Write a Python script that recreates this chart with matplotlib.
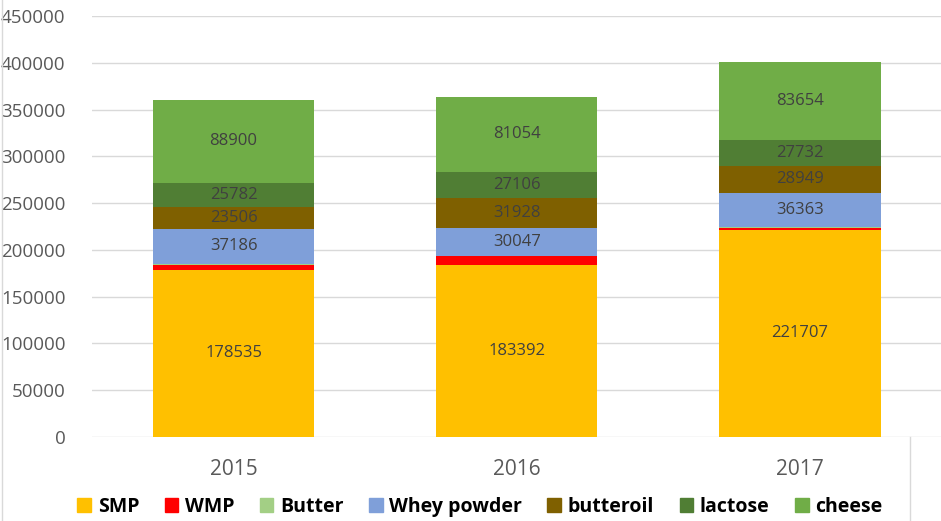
import matplotlib
matplotlib.use("Agg")
import matplotlib.pyplot as plt
from matplotlib.lines import Line2D
import numpy as np

years = ["2015", "2016", "2017"]
series = ["SMP", "WMP", "Butter", "Whey powder", "butteroil", "lactose", "cheese"]
smp = [178535, 183392, 221707]
wmp = [4800, 9800, 1600]
butter = [2000, 600, 1300]
whey = [37186, 30047, 36363]
butteroil = [23506, 31928, 28949]
lactose = [25782, 27106, 27732]
cheese = [88900, 81054, 83654]
labelled = [True, False, False, True, True, True, True]

colors = ["#FFC000", "#FF0000", "#A3CF85", "#7F9FD9", "#7F6000", "#507E34", "#70AD47"]

plt.rcParams["font.family"] = ["Open Sans", "DejaVu Sans"]

fig = plt.figure(figsize=(9.41, 5.21), dpi=100)
ax = fig.add_axes([92 / 941, 1 - 437 / 521, 849.5 / 941, (437 - 16) / 521])

x = np.arange(len(years))
bottom = np.zeros(len(years))
data = [smp, wmp, butter, whey, butteroil, lactose, cheese]
for name, vals, col, lab in zip(series, data, colors, labelled):
    vals = np.array(vals, dtype=float)
    ax.bar(x, vals, 0.57, bottom=bottom, color=col, label=name, zorder=3)
    if lab:
        for xi, b, v in zip(x, bottom, vals):
            ax.text(xi, b + v / 2, f"{int(v)}", ha="center", va="center",
                    fontsize=12, color="#404040", zorder=4)
    bottom += vals

ax.set_xlim(-0.5, 2.5)
ax.set_ylim(0, 450000)
ax.set_yticks(np.arange(0, 450001, 50000))
ax.set_yticklabels([str(v) for v in range(0, 450001, 50000)])
ax.set_xticks(x)
ax.set_xticklabels(years)
ax.tick_params(axis="y", length=0, pad=19, labelsize=13.5, labelcolor="#595959")
ax.tick_params(axis="x", length=0, pad=16, labelsize=15, labelcolor="#595959")
ax.grid(axis="y", color="#D9D9D9", linewidth=1, zorder=0)
for s in ax.spines.values():
    s.set_visible(False)

# thin frame lines around the chart area
fig.add_artist(Line2D([2 / 941, 2 / 941], [0, 1], color="#D9D9D9", lw=1))
fig.add_artist(Line2D([910 / 941, 910 / 941], [0, 1 - 437 / 521], color="#D9D9D9", lw=1))

handles = [plt.Rectangle((0, 0), 1, 1, color=c) for c in colors]
fig.legend(handles, series, loc="center", bbox_to_anchor=(480 / 941, 1 - 507 / 521),
           ncol=7, frameon=False, handlelength=0.7, handleheight=0.7,
           handletextpad=0.35, columnspacing=1.3,
           prop={"weight": "bold", "size": 14})

fig.savefig("out.png", dpi=100)
